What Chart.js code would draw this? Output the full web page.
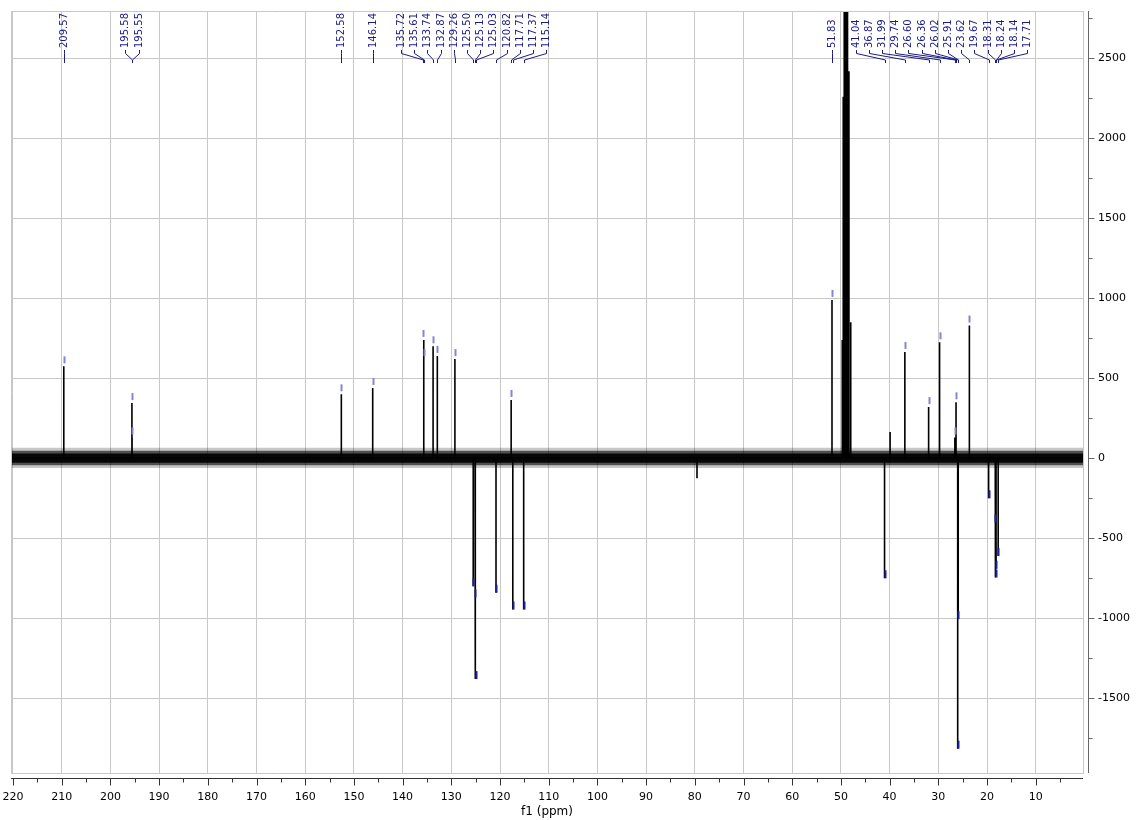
<!DOCTYPE html>
<html>
<head>
<meta charset="utf-8">
<title>f1 (ppm)</title>
<script src="https://cdn.jsdelivr.net/npm/chart.js@4.4.1/dist/chart.umd.min.js"></script>
<style>
  html, body { margin: 0; padding: 0; background: #fff; }
  canvas { display: block; }
</style>
</head>
<body>
<canvas id="nmr-chart" width="1136" height="820"></canvas>
<script>
// labelled peaks: position (ppm) and intensity
const peakPpm = [209.57, 195.58, 195.55, 152.58, 146.14, 135.72, 135.61, 133.74, 132.87, 129.26,
                 125.50, 125.13, 125.03, 120.82, 117.71, 117.37, 115.14, 51.83, 41.04, 36.87,
                 31.99, 29.74, 26.60, 26.36, 26.02, 25.91, 23.62, 19.67, 18.31, 18.24, 18.14, 17.71];
const peakHeight = [575, 345, 130, 400, 440, 740, 620, 700, 640, 620,
                    -800, -870, -1380, -840, 365, -945, -945, 990, -750, 665,
                    320, 725, 130, 350, -1815, -1005, 830, -250, -400, -745, -690, -610];

// solvent multiplet (not labelled, goes off scale)
const solventPpm = [49.72, 49.52, 49.32, 49.10, 48.88, 48.64, 48.35, 47.98];
const solventHeight = [740, 2260, 6000, 6000, 6000, 6000, 2420, 850];

// a couple of larger baseline spikes
const spikePpm = [79.55, 39.90];
const spikeHeight = [-125, 165];

// baseline noise envelope (three layers, dense core to sparse edge)
const noisePpm = [220.41, 0.29];
const noiseOuterTop = [66, 66];
const noiseOuterBottom = [-60, -60];
const noiseMidTop = [48, 48];
const noiseMidBottom = [-44, -44];
const noiseCoreTop = [30, 30];
const noiseCoreBottom = [-28, -28];

// axes
const xRange = [0.29, 220.41];
const yRange = [-1967, 2796];
const xTickLabels = [220, 210, 200, 190, 180, 170, 160, 150, 140, 130, 120,
                     110, 100, 90, 80, 70, 60, 50, 40, 30, 20, 10];
const yTickLabels = [2500, 2000, 1500, 1000, 500, 0, -500, -1000, -1500];
const xMinorStep = 5;
const yMinorStep = 250;

document.addEventListener('DOMContentLoaded', function () {
    Chart.defaults.font.family = "'DejaVu Sans', Verdana, sans-serif";
    Chart.defaults.font.size = 11;
    Chart.defaults.color = '#000';

    // every peak becomes a stick 0 -> h -> 0 on one trace
    const sticks = [];
    peakPpm.forEach((p, i) => sticks.push([p, peakHeight[i]]));
    solventPpm.forEach((p, i) => sticks.push([p, solventHeight[i]]));
    spikePpm.forEach((p, i) => sticks.push([p, spikeHeight[i]]));
    sticks.sort((a, b) => b[0] - a[0]);

    const trace = [{ x: xRange[1], y: 0 }];
    sticks.forEach(([p, h]) => {
        trace.push({ x: p, y: 0 }, { x: p, y: h }, { x: p, y: 0 });
    });
    trace.push({ x: xRange[0], y: 0 });

    const band = arr => noisePpm.map((p, i) => ({ x: p, y: arr[i] }));
    const flat = { borderWidth: 0, borderColor: 'transparent', pointRadius: 0, tension: 0 };

    // major ticks carry the labels, minor ticks sit halfway
    const withMinor = (majors, step, lo, hi) => {
        const vals = [];
        majors.forEach(v => [v - step, v, v + step].forEach(w => {
            if (w >= lo && w <= hi && !vals.includes(w)) vals.push(w);
        }));
        return vals.sort((a, b) => a - b).map(v => ({ value: v, major: majors.includes(v) }));
    };
    const isMajorX = v => xTickLabels.includes(v);
    const isMajorY = v => yTickLabels.includes(v);

    const labelColor = '#1b1b86';

    // markers, axis lines and the peak labels on top
    const spectrumDecor = {
        id: 'spectrumDecor',
        afterDatasetsDraw(chart) {
            const { ctx, chartArea: a, scales: { x, y } } = chart;
            ctx.save();

            // light frame on top and left
            ctx.strokeStyle = '#c8c8c8';
            ctx.lineWidth = 1;
            ctx.beginPath();
            ctx.moveTo(a.left + 0.5, a.bottom);
            ctx.lineTo(a.left + 0.5, a.top + 0.5);
            ctx.lineTo(a.right, a.top + 0.5);
            ctx.stroke();

            // bottom axis line + ticks
            const bx = Math.round(a.bottom + 5) + 0.5;
            ctx.strokeStyle = '#333';
            ctx.beginPath();
            ctx.moveTo(a.left, bx);
            ctx.lineTo(a.right, bx);
            x.ticks.forEach(t => {
                const px = Math.round(x.getPixelForValue(t.value)) + 0.5;
                const len = isMajorX(t.value) ? 7 : 4;
                ctx.moveTo(px, bx);
                ctx.lineTo(px, bx + len);
            });
            ctx.stroke();

            // right axis line + ticks
            const ry = Math.round(a.right + 5) + 0.5;
            ctx.strokeStyle = '#666';
            ctx.beginPath();
            ctx.moveTo(ry, a.top);
            ctx.lineTo(ry, a.bottom);
            y.ticks.forEach(t => {
                const py = Math.round(y.getPixelForValue(t.value)) + 0.5;
                const len = isMajorY(t.value) ? 6 : 4;
                ctx.moveTo(ry, py);
                ctx.lineTo(ry + len, py);
            });
            ctx.stroke();

            // small peak markers at the tips
            ctx.lineWidth = 2;
            peakPpm.forEach((p, i) => {
                const px = Math.round(x.getPixelForValue(p)) + 0.5;
                const py = y.getPixelForValue(peakHeight[i]);
                ctx.beginPath();
                if (peakHeight[i] > 0) {
                    ctx.strokeStyle = '#8585d6';
                    ctx.moveTo(px, py - 10);
                    ctx.lineTo(px, py - 3);
                } else {
                    ctx.strokeStyle = '#1f1f99';
                    ctx.moveTo(px, py - 8);
                    ctx.lineTo(px, py);
                }
                ctx.stroke();
            });

            // spread labels so they do not overlap
            const sp = 13.2;
            const items = peakPpm.map(p => ({ text: p.toFixed(2), px: x.getPixelForValue(p) }))
                .sort((m, n) => m.px - n.px);
            let groups = items.map(it => ({ members: [it], lo: it.px, hi: it.px }));
            let merged = true;
            while (merged) {
                merged = false;
                for (let i = 0; i < groups.length - 1; i++) {
                    const g = groups[i], h = groups[i + 1];
                    const gRight = (g.lo + g.hi) / 2 + (g.members.length - 1) * sp / 2;
                    const hLeft = (h.lo + h.hi) / 2 - (h.members.length - 1) * sp / 2;
                    if (hLeft - gRight < sp) {
                        groups.splice(i, 2, {
                            members: g.members.concat(h.members),
                            lo: Math.min(g.lo, h.lo),
                            hi: Math.max(g.hi, h.hi)
                        });
                        merged = true;
                        break;
                    }
                }
            }

            ctx.strokeStyle = labelColor;
            ctx.fillStyle = labelColor;
            ctx.lineWidth = 1;
            ctx.font = "10px 'DejaVu Sans', Verdana, sans-serif";
            ctx.textAlign = 'left';
            ctx.textBaseline = 'middle';
            const t0 = a.top;
            groups.forEach(g => {
                const start = (g.lo + g.hi) / 2 - (g.members.length - 1) * sp / 2;
                g.members.forEach((m, k) => {
                    const lx = Math.round(start + k * sp) + 0.5;
                    const px = Math.round(m.px) + 0.5;
                    ctx.beginPath();
                    ctx.moveTo(lx, t0 + 39);
                    ctx.lineTo(lx, t0 + 42.5);
                    ctx.lineTo(px, t0 + 49);
                    ctx.lineTo(px, t0 + 52);
                    ctx.stroke();
                    ctx.save();
                    ctx.translate(lx, t0 + 37);
                    ctx.rotate(-Math.PI / 2);
                    ctx.fillText(m.text, 0, 0);
                    ctx.restore();
                });
            });

            ctx.restore();
        }
    };

    new Chart(document.getElementById('nmr-chart'), {
        type: 'line',
        data: {
            datasets: [
                { label: 'spectrum', data: trace, borderColor: '#000', borderWidth: 1.6,
                  pointRadius: 0, tension: 0, fill: false, order: 0 },
                Object.assign({ label: 'noise core low', data: band(noiseCoreBottom), fill: false, order: 1 }, flat),
                Object.assign({ label: 'noise core high', data: band(noiseCoreTop), fill: '-1',
                                backgroundColor: 'rgba(0,0,0,0.92)', order: 1 }, flat),
                Object.assign({ label: 'noise mid low', data: band(noiseMidBottom), fill: false, order: 2 }, flat),
                Object.assign({ label: 'noise mid high', data: band(noiseMidTop), fill: '-1',
                                backgroundColor: 'rgba(0,0,0,0.6)', order: 2 }, flat),
                Object.assign({ label: 'noise outer low', data: band(noiseOuterBottom), fill: false, order: 3 }, flat),
                Object.assign({ label: 'noise outer high', data: band(noiseOuterTop), fill: '-1',
                                backgroundColor: 'rgba(0,0,0,0.22)', order: 3 }, flat)
            ]
        },
        options: {
            responsive: false,
            animation: false,
            devicePixelRatio: 1,
            layout: { padding: { top: 11, left: 11, right: 0, bottom: 0 } },
            plugins: {
                legend: { display: false },
                tooltip: { enabled: false }
            },
            scales: {
                x: {
                    type: 'linear',
                    reverse: true,
                    min: xRange[0],
                    max: xRange[1],
                    afterBuildTicks: s => { s.ticks = withMinor(xTickLabels, xMinorStep, xRange[0], xRange[1]); },
                    afterFit: s => { s.height = 47; },
                    grid: {
                        color: c => (c.tick && isMajorX(c.tick.value)) ? '#c8c8c8' : 'transparent',
                        tickColor: 'transparent',
                        tickLength: 14
                    },
                    border: { color: '#c8c8c8' },
                    ticks: {
                        autoSkip: false,
                        maxRotation: 0,
                        padding: 4,
                        color: '#000',
                        callback: v => isMajorX(v) ? String(v) : ''
                    },
                    title: {
                        display: true,
                        text: 'f1 (ppm)',
                        font: { size: 12 },
                        padding: { top: 0, bottom: 1 }
                    }
                },
                y: {
                    type: 'linear',
                    position: 'right',
                    min: yRange[0],
                    max: yRange[1],
                    afterBuildTicks: s => { s.ticks = withMinor(yTickLabels, yMinorStep, yRange[0], yRange[1]); },
                    afterFit: s => { s.width = 53; },
                    grid: {
                        color: c => (c.tick && isMajorY(c.tick.value)) ? '#c8c8c8' : 'transparent',
                        tickColor: 'transparent',
                        tickLength: 11
                    },
                    border: { color: '#c8c8c8' },
                    ticks: {
                        autoSkip: false,
                        padding: 4,
                        color: '#000',
                        callback: v => isMajorY(v) ? String(v) : ''
                    }
                }
            }
        },
        plugins: [spectrumDecor]
    });
});
</script>
</body>
</html>
